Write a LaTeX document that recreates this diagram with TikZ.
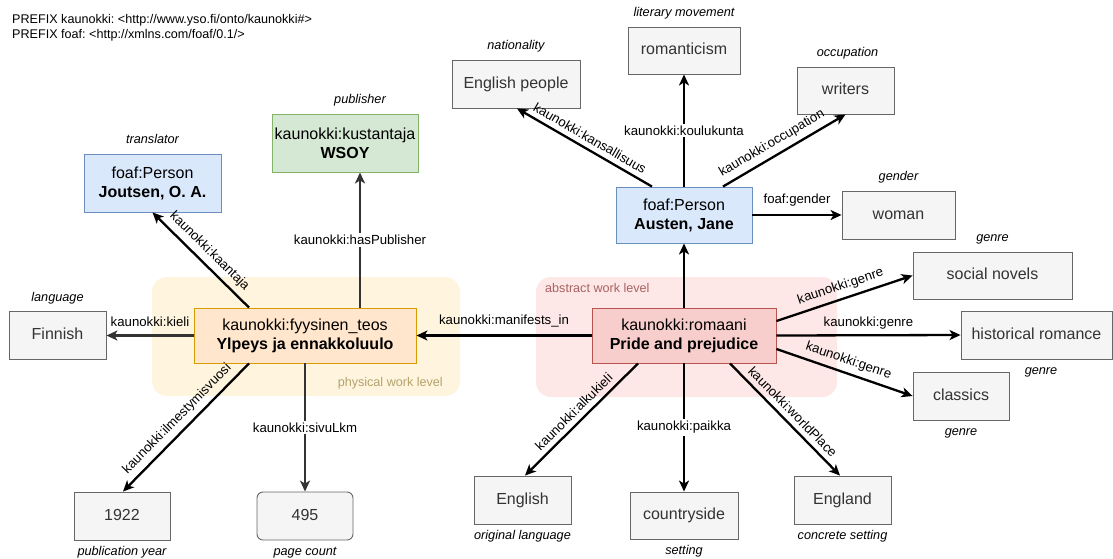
\documentclass[tikz,border=0pt]{standalone}
\usepackage{fontspec}
\setmainfont{Liberation Sans}
\usetikzlibrary{positioning, arrows.meta}
\frenchspacing

\definecolor{grayfill}{HTML}{F5F5F5}
\definecolor{grayline}{HTML}{666666}
\definecolor{graytext}{HTML}{333333}
\definecolor{bluefill}{HTML}{DAE8FC}
\definecolor{blueline}{HTML}{6C8EBF}
\definecolor{greenfill}{HTML}{D5E8D4}
\definecolor{greenline}{HTML}{82B366}
\definecolor{redfill}{HTML}{F8CECC}
\definecolor{redline}{HTML}{B85450}
\definecolor{orangefill}{HTML}{FFE6CC}
\definecolor{orangeline}{HTML}{D79B00}
\definecolor{physfill}{HTML}{FFF5DE}
\definecolor{physlabel}{HTML}{B3A36E}
\definecolor{abstfill}{HTML}{FDE7E7}
\definecolor{abstlabel}{HTML}{A86462}

\begin{document}
\begin{tikzpicture}[x=1pt, y=-1pt]
	\tikzset{
		item/.style={draw=grayline, line width=0.9pt, fill=grayfill, text=graytext, minimum width=97pt, minimum height=48pt, inner sep=0pt, text height=11.5pt, text depth=3.4pt, font=\fontsize{16}{19}\selectfont},
		entity/.style 2 args={draw=#2, line width=0.9pt, fill=#1, align=center, inner sep=0pt, font=\fontsize{16}{19}\selectfont},
		region/.style={fill=#1, rounded corners=15pt, inner sep=0pt},
		levellbl/.style={inner sep=0pt, font=\fontsize{12.6}{15}\selectfont},
		pfxtext/.style={anchor=base west, inner sep=0pt, font=\fontsize{12.6}{15}\selectfont},
		roletext/.style={inner sep=1pt, text height=9pt, text depth=2.5pt, font=\fontsize{12.7}{15}\selectfont\itshape},
		rel/.style={-{Stealth[length=11pt, width=10pt, inset=3pt]}, line width=2.3pt},
		lbl/.style={inner sep=2pt, sloped, above=#1, font=\fontsize{13.2}{15}\selectfont},
		lbl/.default=3pt,
		onl/.style={fill=white, inner sep=2pt, font=\fontsize{13.2}{15}\selectfont},
		node distance=6pt
	}
	\useasboundingbox (0,0) rectangle (1113,558);
	
	% Prefixes
	\node[pfxtext] (pfx1) at (12,23) {PREFIX kaunokki: <http://www.yso.fi/onto/kaunokki\#>};
	\node[pfxtext] (pfx2) at (12,38.5) {PREFIX foaf: <http://xmlns.com/foaf/0.1/>};
	
	% Work levels
	\node[region=physfill, minimum width=308pt, minimum height=119pt] (physical) at (306,336.5) {};
	\node[region=abstfill, minimum width=301pt, minimum height=120pt] (abstract) at (686.5,337) {};
	\node[levellbl, text=physlabel, anchor=base east] (physlbl) at (443,386) {physical work level};
	\node[levellbl, text=abstlabel, anchor=base west] (abstlbl) at (545,292.5) {abstract work level};
	
	% Resources
	\node[entity={redfill}{redline}, minimum width=184pt, minimum height=55pt] (pride) at (684,335.5) {kaunokki:romaani\\\textbf{Pride and prejudice}};
	\node[entity={orangefill}{orangeline}, minimum width=222pt, minimum height=55pt] (ylpeys) at (305,335.5) {kaunokki:fyysinen\_teos\\\textbf{Ylpeys ja ennakkoluulo}};
	\node[entity={bluefill}{blueline}, minimum width=136pt, minimum height=56pt] (austen) at (684,215) {foaf:Person\\\textbf{Austen, Jane}};
	\node[entity={bluefill}{blueline}, minimum width=137pt, minimum height=58pt] (joutsen) at (152.5,183) {foaf:Person\\\textbf{Joutsen, O. A.}};
	\node[entity={greenfill}{greenline}, minimum width=146pt, minimum height=58pt] (wsoy) at (345,143) {kaunokki:kustantaja\\\textbf{WSOY}};
	
	% Values
	\node[item, minimum width=112pt, minimum height=47pt] (romant) at (684,50.5) {romanticism};
	\node[item, minimum width=128pt] (nation) at (516,84) {English people};
	\node[item, minimum height=47pt] (writers) at (845.5,90.5) {writers};
	\node[item, minimum width=113pt] (woman) at (898.5,215) {woman};
	\node[item, minimum width=159pt, minimum height=47pt] (social) at (992.5,275.5) {social novels};
	\node[item, minimum width=151pt] (histrom) at (1036.5,335) {historical romance};
	\node[item, minimum width=96pt] (classics) at (961,396) {classics};
	\node[item] (finnish) at (57.5,335.5) {Finnish};
	\node[item, minimum width=96pt] (year) at (122,516) {1922};
	\node[item, minimum width=96pt, rounded corners=6pt] (pages) at (305,516) {495};
	\node[item] (english) at (522.5,500) {English};
	\node[item, minimum width=108pt, minimum height=47pt] (country) at (684,515.5) {countryside};
	\node[item] (england) at (842.5,500) {England};
	
	% Roles
	\node[roletext, above=of joutsen] (joutsenrole) {translator};
	\node[roletext, above=of wsoy, xshift=15pt] (wsoyrole) {publisher};
	\node[roletext, above=of nation] (nationrole) {nationality};
	\node[roletext, above=of romant] (romantrole) {literary movement};
	\node[roletext, above=of writers, xshift=2pt] (writersrole) {occupation};
	\node[roletext, above=of woman] (womanrole) {gender};
	\node[roletext, above=of social] (socialrole) {genre};
	\node[roletext, below=5pt of histrom, xshift=4.5pt] (histromrole) {genre};
	\node[roletext, below=5pt of classics] (classicsrole) {genre};
	\node[roletext, above=of finnish] (finnishrole) {language};
	\node[roletext, below=5pt of year] (yearrole) {publication year};
	\node[roletext, below=5pt of pages] (pagesrole) {page count};
	\node[roletext, below=5pt of english] (englishrole) {original language};
	\node[roletext, below=5pt of country] (countryrole) {setting};
	\node[roletext, below=5pt of england] (englandrole) {concrete setting};
	
	% Person
	\draw[rel] (austen) -- node[onl] {kaunokki:koulukunta} (romant);
	\draw[rel] ([xshift=-32pt]austen.north) -- node[lbl] {kaunokki:kansallisuus} ([xshift=1pt]nation.south);
	\draw[rel] ([xshift=39pt]austen.north) -- node[lbl, pos=0.45] {kaunokki:occupation} (writers.south);
	\draw[rel] (austen) -- node[lbl=5.5pt] {foaf:gender} (woman);
	
	% Abstract work
	\draw[rel] (pride) -- (austen);
	\draw[rel] (pride) -- node[lbl=5.5pt] {kaunokki:manifests\_in} (ylpeys);
	\foreach \t/\s in {social/14.5, histrom/0, classics/-13.5}{
		\draw[rel] ([yshift=\s pt]pride.east) -- node[lbl] {kaunokki:genre} (\t.west);
	}
	\draw[rel] ([xshift=-46pt]pride.south) -- node[lbl] {kaunokki:alkukieli} ([xshift=2.5pt]english.north);
	\draw[rel] (pride) -- node[onl] {kaunokki:paikka} (country);
	\draw[rel] ([xshift=46pt]pride.south) -- node[lbl] {kaunokki:worldPlace} ([xshift=-2.5pt]england.north);
	
	% Physical work
	\draw[rel, draw=graytext] ([xshift=55pt]ylpeys.north) -- node[onl] {kaunokki:hasPublisher} ([xshift=15pt]wsoy.south);
	\draw[rel] ([xshift=-56pt]ylpeys.north) -- node[lbl] {kaunokki:kaantaja} (joutsen.south);
	\draw[rel, draw=graytext] (ylpeys) -- node[lbl=5.5pt] {kaunokki:kieli} (finnish);
	\draw[rel] ([xshift=-56pt]ylpeys.south) -- node[lbl] {kaunokki:ilmestymisvuosi} ([xshift=1pt]year.north);
	\draw[rel, draw=graytext] (ylpeys) -- node[onl] {kaunokki:sivuLkm} (pages);
\end{tikzpicture}
\end{document}
